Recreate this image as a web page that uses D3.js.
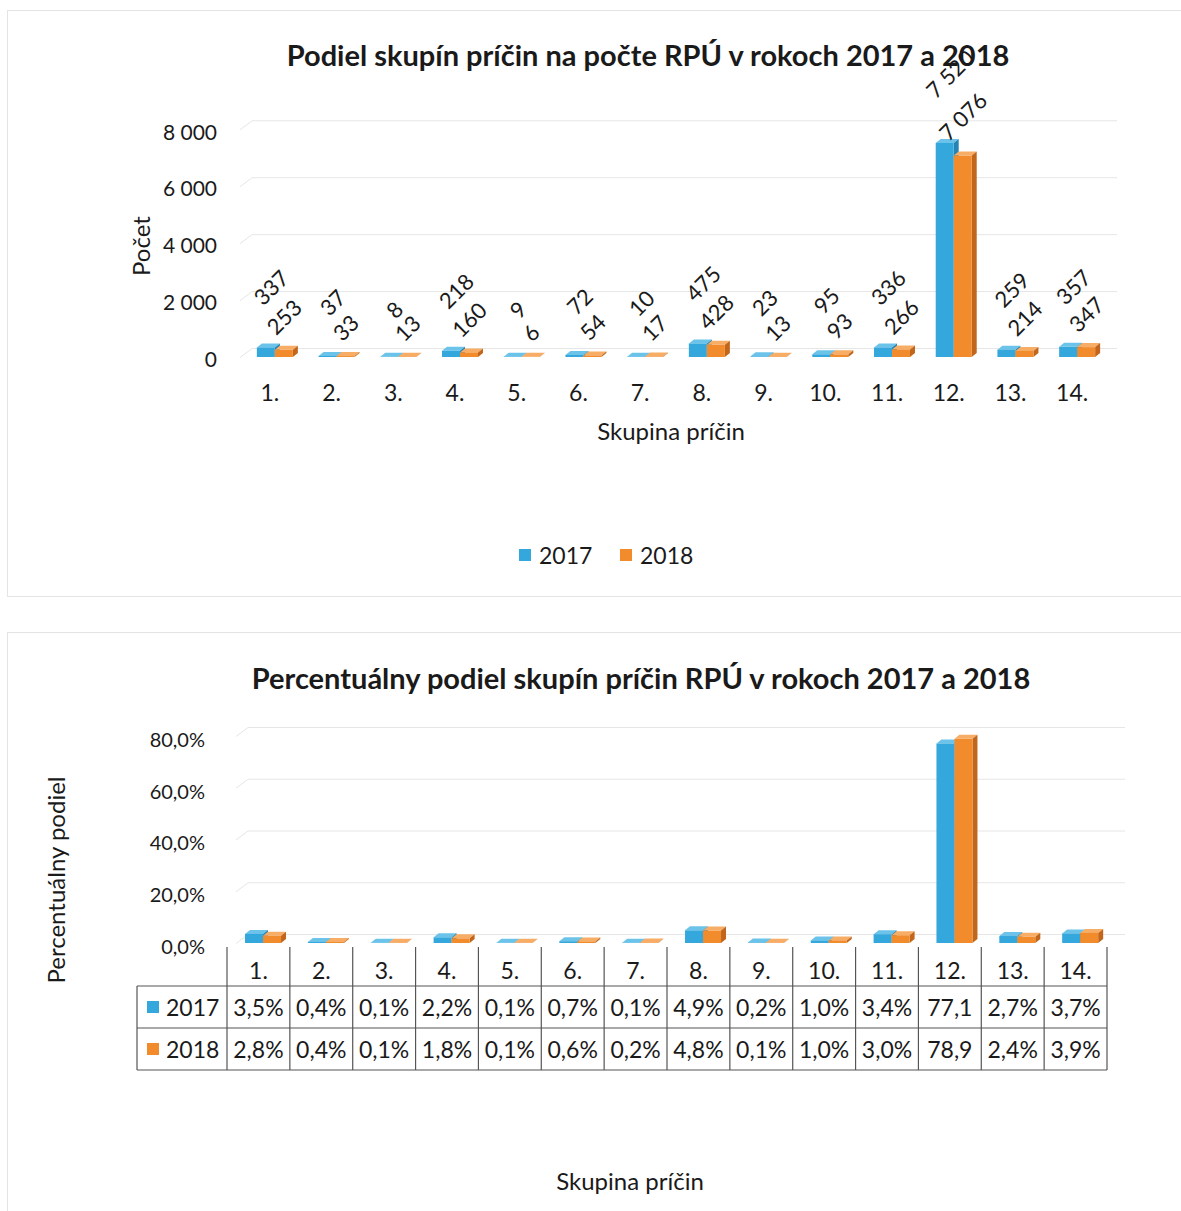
<!DOCTYPE html>
<html>
<head>
<meta charset="utf-8">
<script src="https://cdn.jsdelivr.net/npm/d3@7"></script>
<style>
  body { margin: 0; background: #fff; }
  text { font-family: Lato, "Open Sans", sans-serif; fill: #1a1a1a; }
</style>
</head>
<body>
<svg id="chart" width="1181" height="1211"></svg>
<script>
// data
const categories = ["1.", "2.", "3.", "4.", "5.", "6.", "7.", "8.", "9.", "10.", "11.", "12.", "13.", "14."];
const years = ["2017", "2018"];
const count2017 = [337, 37, 8, 218, 9, 72, 10, 475, 23, 95, 336, 7520, 259, 357];
const count2018 = [253, 33, 13, 160, 6, 54, 17, 428, 13, 93, 266, 7076, 214, 347];
const share2017 = [3.5, 0.4, 0.1, 2.2, 0.1, 0.7, 0.1, 4.9, 0.2, 1.0, 3.4, 77.1, 2.7, 3.7];
const share2018 = [2.8, 0.4, 0.1, 1.8, 0.1, 0.6, 0.2, 4.8, 0.1, 1.0, 3.0, 78.9, 2.4, 3.9];
const countTicks = [0, 2000, 4000, 6000, 8000];
const shareTicks = [0, 20, 40, 60, 80];

const sk = d3.formatLocale({decimal: ",", thousands: "\u00a0", grouping: [3], currency: ["", ""]});
const fmtCount = sk.format(",d");
const fmtPct = v => sk.format(".1f")(v) + "%";

// face colours: front, top, side
const palette = {
  "2017": ["#34a7dd", "#6cc3ea", "#2484b3"],
  "2018": ["#f28b2c", "#f7ad66", "#c2661b"]
};

const svg = d3.select("#chart");
const depthX = 5, depthY = -4, barW = 18;

// faint frame lines of the two chart areas
const frame = svg.append("g").attr("stroke", "#e4e4e4").attr("stroke-width", 1);
frame.append("line").attr("x1", 7).attr("x2", 1181).attr("y1", 10.5).attr("y2", 10.5);
frame.append("line").attr("x1", 7).attr("x2", 1181).attr("y1", 596.5).attr("y2", 596.5);
frame.append("line").attr("x1", 7).attr("x2", 1181).attr("y1", 632.5).attr("y2", 632.5);
frame.append("line").attr("x1", 7.5).attr("x2", 7.5).attr("y1", 10).attr("y2", 596);
frame.append("line").attr("x1", 7.5).attr("x2", 7.5).attr("y1", 632).attr("y2", 1211);

function bar3d(g, x, yTop, yBase, colors) {
  const h = Math.max(0, yBase - yTop);
  g.append("polygon")
    .attr("points", [[x, yTop], [x + depthX, yTop + depthY], [x + barW + depthX, yTop + depthY], [x + barW, yTop]].join(" "))
    .attr("fill", colors[1]);
  g.append("polygon")
    .attr("points", [[x + barW, yTop], [x + barW + depthX, yTop + depthY], [x + barW + depthX, yBase + depthY], [x + barW, yBase]].join(" "))
    .attr("fill", colors[2]);
  g.append("rect").attr("x", x).attr("y", yTop).attr("width", barW).attr("height", h).attr("fill", colors[0]);
}

function backGrid(g, ticks, y, x0, x1) {
  const lines = g.append("g").attr("stroke", "#e6e6e6").attr("stroke-width", 1);
  ticks.forEach(t => {
    lines.append("line").attr("x1", x0 + 12).attr("x2", x1).attr("y1", y(t) - 8.5).attr("y2", y(t) - 8.5);
    lines.append("line").attr("x1", x0).attr("x2", x0 + 12).attr("y1", y(t) + 0.5).attr("y2", y(t) - 8.5);
  });
}

// ---------- chart 1: counts ----------
const x1 = d3.scaleBand().domain(categories).range([239, 1103]);
const y1 = d3.scaleLinear().domain([0, 8000]).range([357, 129.3]);
const upper = svg.append("g");

backGrid(upper, countTicks, y1, 240, 1117);

const yAx1 = upper.append("g").attr("transform", "translate(217,3)")
  .call(d3.axisLeft(y1).tickValues(countTicks).tickFormat(fmtCount).tickSize(0).tickPadding(0));
yAx1.select(".domain").remove();
yAx1.selectAll("text").style("font-size", "21px").style("font-family", "Lato");

const xAx1 = upper.append("g").attr("transform", "translate(0,392)")
  .call(d3.axisBottom(x1).tickSize(0).tickPadding(0));
xAx1.select(".domain").remove();
xAx1.selectAll("text").attr("dy", null).attr("dominant-baseline", "central")
  .style("font-size", "23px").style("font-family", "Lato");

categories.forEach((c, i) => {
  const cx = x1(c) + x1.bandwidth() / 2 + 5;
  const g = upper.append("g");
  bar3d(g, cx - barW, y1(count2017[i]), y1(0), palette["2017"]);
  bar3d(g, cx, y1(count2018[i]), y1(0), palette["2018"]);
});

// rotated data labels
function addLabels(values, offsetX, a, b) {
  upper.append("g").selectAll("text").data(values).join("text")
    .text(d => fmtCount(d))
    .attr("text-anchor", "middle")
    .attr("dominant-baseline", "central")
    .style("font-size", "22px")
    .each(function (d, i) {
      const L = this.getComputedTextLength();
      const cx = x1(categories[i]) + x1.bandwidth() / 2 + 5 + offsetX;
      const cy = y1(d) - a - b * L;
      d3.select(this).attr("transform", `translate(${cx},${cy}) rotate(-45)`);
    });
}
addLabels(count2017, -barW / 2 + 5, 41, 0.5);
addLabels(count2018, barW / 2, 20, 0.34);

upper.append("text").attr("x", 648).attr("y", 54).attr("text-anchor", "middle")
  .attr("dominant-baseline", "central")
  .style("font-size", "29px").style("font-weight", "bold")
  .text("Podiel skupín príčin na počte RPÚ v rokoch 2017 a 2018");

upper.append("text").attr("transform", "translate(140,246) rotate(-90)")
  .attr("text-anchor", "middle").attr("dominant-baseline", "central")
  .style("font-size", "24px").text("Počet");

upper.append("text").attr("x", 671).attr("y", 430).attr("text-anchor", "middle")
  .attr("dominant-baseline", "central").style("font-size", "24px").text("Skupina príčin");

// legend
const legX = d3.scaleOrdinal().domain(years).range([519, 620]);
const leg = upper.append("g").selectAll("g").data(years).join("g")
  .attr("transform", d => `translate(${legX(d)},555)`);
leg.append("rect").attr("x", 0).attr("y", -6).attr("width", 12).attr("height", 12)
  .attr("fill", d => palette[d][0]);
leg.append("text").attr("x", 20).attr("dominant-baseline", "central")
  .style("font-size", "23px").text(d => d);

// ---------- chart 2: shares ----------
const x2 = d3.scaleBand().domain(categories).range([227, 1107]);
const y2 = d3.scaleLinear().domain([0, 80]).range([943, 736]);
const lower = svg.append("g");

backGrid(lower, shareTicks, y2, 236, 1125);

const yAx2 = lower.append("g").attr("transform", "translate(205,4)")
  .call(d3.axisLeft(y2).tickValues(shareTicks).tickFormat(fmtPct).tickSize(0).tickPadding(0));
yAx2.select(".domain").remove();
yAx2.selectAll("text").style("font-size", "20px").style("font-family", "Lato");

categories.forEach((c, i) => {
  const cx = x2(c) + x2.bandwidth() / 2 + 4.6;
  const g = lower.append("g");
  bar3d(g, cx - barW, y2(share2017[i]), y2(0), palette["2017"]);
  bar3d(g, cx, y2(share2018[i]), y2(0), palette["2018"]);
});

// data table under the axis
const rowY = {head: [947, 986], "2017": [986, 1028], "2018": [1028, 1070]};
const tbl = lower.append("g");
const tl = tbl.append("g").attr("stroke", "#555").attr("stroke-width", 1.2);
categories.concat(["end"]).forEach(c => {
  const x = c === "end" ? x2.range()[1] : x2(c);
  tl.append("line").attr("x1", x).attr("x2", x).attr("y1", rowY.head[0]).attr("y2", rowY["2018"][1]);
});
[rowY["2017"][0], rowY["2018"][0], rowY["2018"][1]].forEach(y => {
  tl.append("line").attr("x1", 137).attr("x2", 1107).attr("y1", y).attr("y2", y);
});
tl.append("line").attr("x1", 137).attr("x2", 137).attr("y1", rowY["2017"][0]).attr("y2", rowY["2018"][1]);

const xAx2 = tbl.append("g").attr("transform", `translate(0,${(rowY.head[0] + rowY.head[1]) / 2 + 3})`)
  .call(d3.axisBottom(x2).tickSize(0).tickPadding(0));
xAx2.select(".domain").remove();
xAx2.selectAll("text").attr("dy", null).attr("dominant-baseline", "central")
  .style("font-size", "23px").style("font-family", "Lato");

[["2017", share2017], ["2018", share2018]].forEach(([yr, vals]) => {
  const ym = (rowY[yr][0] + rowY[yr][1]) / 2;
  tbl.append("rect").attr("x", 147).attr("y", ym - 6).attr("width", 12).attr("height", 12)
    .attr("fill", palette[yr][0]);
  tbl.append("text").attr("x", 166).attr("y", ym).attr("dominant-baseline", "central")
    .style("font-size", "23px").text(yr);
  tbl.append("g").selectAll("text").data(vals).join("text")
    .attr("x", (d, i) => x2(categories[i]) + x2.bandwidth() / 2)
    .attr("y", ym).attr("text-anchor", "middle").attr("dominant-baseline", "central")
    .style("font-size", "23px")
    .text(d => fmtPct(d))
    .each(function (d) {
      // cells too narrow for the full value lose the trailing sign, as in the source
      if (this.getComputedTextLength() > x2.bandwidth() - 3) d3.select(this).text(sk.format(".1f")(d));
    });
});

lower.append("text").attr("x", 641).attr("y", 677).attr("text-anchor", "middle")
  .attr("dominant-baseline", "central")
  .style("font-size", "29px").style("font-weight", "bold")
  .text("Percentuálny podiel skupín príčin RPÚ v rokoch 2017 a 2018");

lower.append("text").attr("transform", "translate(55,880) rotate(-90)")
  .attr("text-anchor", "middle").attr("dominant-baseline", "central")
  .style("font-size", "24px").text("Percentuálny podiel");

lower.append("text").attr("x", 630).attr("y", 1180).attr("text-anchor", "middle")
  .attr("dominant-baseline", "central").style("font-size", "24px").text("Skupina príčin");
</script>
</body>
</html>
